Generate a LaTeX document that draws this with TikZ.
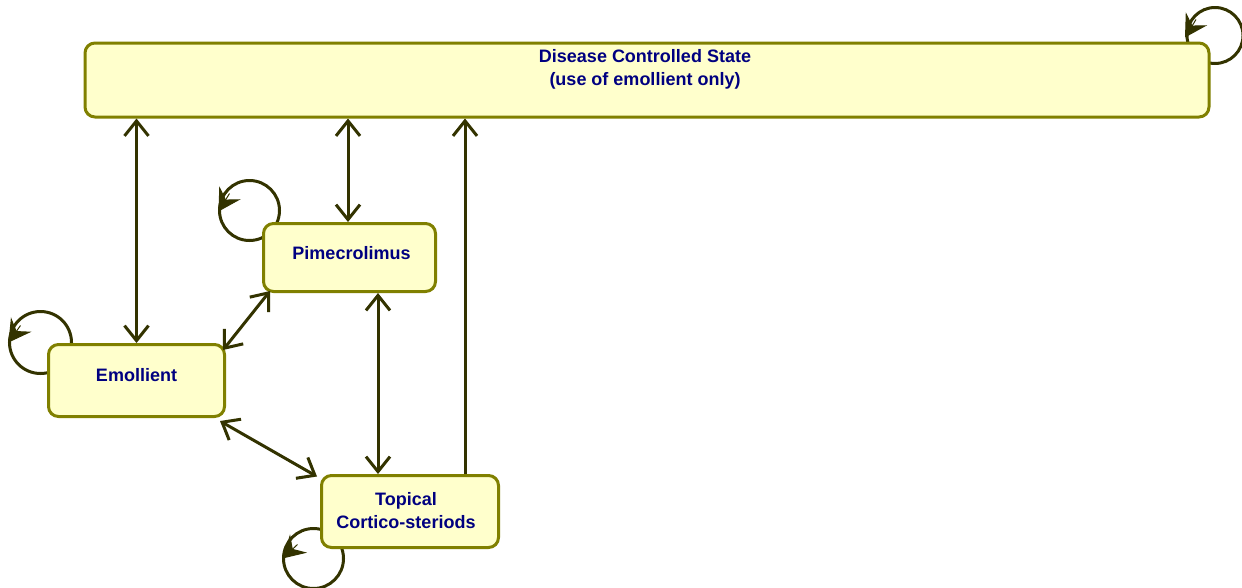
\documentclass[tikz,border=0pt]{standalone}
\usepackage{fontspec}
\setmainfont{Liberation Sans}
\usetikzlibrary{arrows.meta,calc,backgrounds}
\definecolor{boxfill}{HTML}{FFFFCC}
\definecolor{boxline}{HTML}{808000}
\definecolor{arr}{HTML}{333300}
\definecolor{txt}{HTML}{000080}
\begin{document}
\begin{tikzpicture}[x=1pt,y=-1pt,
  statebox/.style={draw=boxline, fill=boxfill, line width=3pt, rounded corners=10pt, inner sep=0pt},
  lbl/.style={font=\fontsize{18}{23}\selectfont\bfseries, text=txt, align=center, inner sep=0pt},
  conn/.style={draw=arr, line width=3pt, {Straight Barb[length=15pt,width=24pt]}-{Straight Barb[length=15pt,width=24pt]}},
  oneway/.style={draw=arr, line width=3pt, -{Straight Barb[length=15pt,width=24pt]}},
  loopline/.style={draw=arr, line width=3pt},
  looptip/.style={draw=arr, line width=1pt, -{Stealth[length=22pt,width=25pt,inset=8pt]}},
]
\useasboundingbox (0,0) rectangle (1242,587);

% boxes
\node[statebox, minimum width=1124pt, minimum height=74pt] (dcs) at (647,80) {};
\node[statebox, minimum width=172pt, minimum height=68pt] (pime) at (349.5,257.5) {};
\node[statebox, minimum width=176pt, minimum height=72pt] (emol) at (136.5,380.5) {};
\node[statebox, minimum width=177pt, minimum height=72pt] (topi) at (410,511.5) {};

% texts
\node[lbl] (dcsT) at ($(dcs.center)+(-2,-10.5)$) {Disease Controlled State\\(use of emollient only)};
\node[lbl] (pimeT) at ($(pime.center)+(2,-4.5)$) {Pimecrolimus};
\node[lbl] (emolT) at ($(emol.center)+(0,-5.5)$) {Emollient};
\node[lbl] (topiT) at ($(topi.center)+(-4,-1)$) {Topical\\Cortico-steriods};

% self loops (behind boxes)
\begin{pgfonlayer}{background}
  \coordinate (cD) at ($(dcs.north east)+(4.5,-6)$);
  \draw[loopline] (cD) circle[radius=28pt];
  \draw[looptip] ($(cD)+(-30,2)+(11,-18)$) -- ($(cD)+(-30,2)$);

  \coordinate (cP) at ($(pime.north west)+(-12.5,-11.5)$);
  \draw[loopline] (cP) circle[radius=30pt];
  \draw[looptip] ($(cP)+(-31,1)+(11,-18)$) -- ($(cP)+(-31,1)$);

  \coordinate (cE) at ($(emol.north west)+(-6.5,-0.5)$);
  \draw[loopline] (cE) circle[radius=31pt];
  \draw[looptip] ($(cE)+(-32,0)+(12,-17)$) -- ($(cE)+(-32,0)$);

  \coordinate (cT) at ($(topi.south west)+(-6.5,9.5)$);
  \draw[loopline] (cT) circle[radius=30pt];
  \draw[looptip] ($(cT)+(-31,0)+(15,-14)$) -- ($(cT)+(-31,0)$);
\end{pgfonlayer}

% connectors
\draw[conn] (emol.north) -- (emol.north |- dcs.south);
\draw[conn] ($(pime.north)+(-1.5,0)$) coordinate (pn) -- (pn |- dcs.south);
\draw[oneway] ($(topi.north)+(55,0)$) coordinate (tn) -- (tn |- dcs.south);
\draw[conn] ($(pime.south)+(28.5,0)$) coordinate (ps) -- (ps |- topi.north);
\draw[conn] ($(emol.north east)+(-3,7)$) -- ($(pime.south west)+(8,-2)$);
\draw[conn] ($(emol.south east)+(-6,3)$) -- ($(topi.north west)+(-3,2.5)$);
\end{tikzpicture}
\end{document}
